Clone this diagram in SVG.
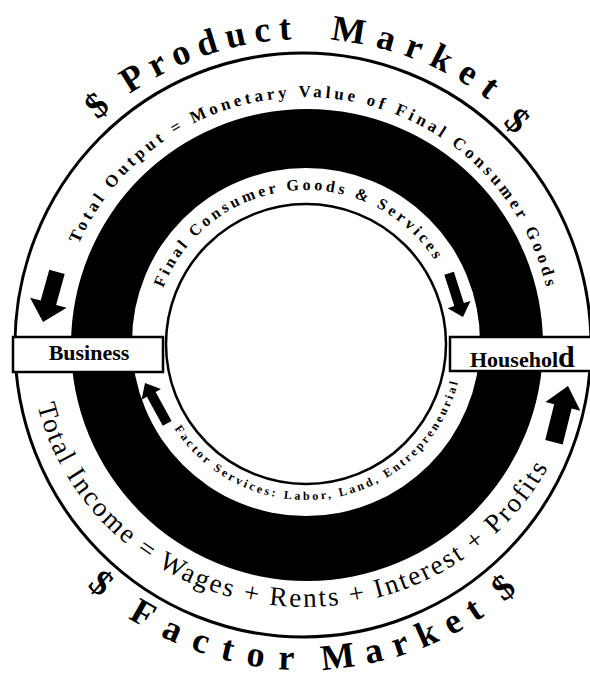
<svg xmlns="http://www.w3.org/2000/svg" width="590" height="675" viewBox="0 0 590 675">
<style>
.serif{font-family:"Liberation Serif","Times New Roman",serif;fill:#000}
.big{font-size:36px;font-weight:bold}
.arr{fill:#000}
.box{fill:#fff;stroke:#000;stroke-width:2.5}
.lbl{font-family:"Liberation Serif","Times New Roman",serif;font-weight:bold;font-size:22px;fill:#000}
</style>
<defs>
<path id="topOuter" d="M -1 345 A 306 306 0 0 1 611 345"/>
<path id="topMid" d="M 57 345 A 248 248 0 0 1 553 345"/>
<path id="topInner" d="M 153 343 A 153 153 0 0 1 459 343"/>
<path id="botInner" d="M 149 343 A 157 157 0 0 0 463 343"/>
<path id="botMid" d="M 30 345 A 275 262 0 0 0 580 345"/>
<path id="botOuter" d="M -20 345 A 325 325 0 0 0 630 345"/>
</defs>
<rect width="590" height="675" fill="#fff"/>
<g id="rings">
<ellipse cx="303" cy="345" rx="288" ry="292" fill="#fff" stroke="#000" stroke-width="3"/>
<path d="M 71 345 A 236 236 0 1 0 543 345 A 236 236 0 1 0 71 345 Z M 132 342 A 174 174 0 1 1 480 342 A 174 174 0 1 1 132 342 Z" fill="#000" fill-rule="evenodd"/>
<circle cx="306" cy="344" r="140" fill="#fff" stroke="#000" stroke-width="2.5"/>
</g>
<g id="ring-labels">
<text class="serif big"><textPath href="#topOuter" startOffset="261.7" text-anchor="middle">$</textPath></text>
<text class="serif big" letter-spacing="8.3"><textPath href="#topOuter" startOffset="293.7">Product</textPath></text>
<text class="serif big" letter-spacing="11"><textPath href="#topOuter" startOffset="505.8">Market</textPath></text>
<text class="serif big" dy="9"><textPath href="#topOuter" startOffset="712" text-anchor="middle">$</textPath></text>
<text class="serif" font-size="17" font-weight="bold" letter-spacing="3.77"><textPath href="#topMid" startOffset="103.9">Total Output = Monetary Value of Final Consumer Goods</textPath></text>
<text class="serif" font-size="16" font-weight="bold" letter-spacing="3.36"><textPath href="#topInner" startOffset="56.1">Final Consumer Goods &amp; Services</textPath></text>
<text class="serif" font-size="12" font-weight="bold" letter-spacing="2.8"><textPath href="#botInner" startOffset="90.4">Factor Services: Labor, Land, Entrepreneurial</textPath></text>
<text class="serif" font-size="27" letter-spacing="2.3"><textPath href="#botMid" startOffset="61">Total Income = Wages + Rents + Interest + Profits</textPath></text>
<text class="serif big"><textPath href="#botOuter" startOffset="280.2" text-anchor="middle">$</textPath></text>
<text class="serif big" letter-spacing="14.8"><textPath href="#botOuter" startOffset="323.3">Factor</textPath></text>
<text class="serif big" letter-spacing="11.5"><textPath href="#botOuter" startOffset="527.5">Market</textPath></text>
<text class="serif big"><textPath href="#botOuter" startOffset="732.9" text-anchor="middle">$</textPath></text>
</g>
<g id="business">
<rect class="box" x="13" y="337" width="150" height="35"/>
<text class="lbl" x="89" y="360" text-anchor="middle">Business</text>
</g>
<g id="household">
<rect class="box" x="450" y="337" width="145" height="34"/>
<text class="lbl" x="470" y="367">Househol<tspan font-size="30">d</tspan></text>
</g>
<g id="connectors">
<polygon class="arr" points="0,0 19,20 8,20 8,52 -8,52 -8,20 -19,20" transform="translate(43,322) rotate(195.6)"/>
<polygon class="arr" points="0,0 12,13 5,13 5,46 -5,46 -5,13 -12,13" transform="translate(463,317) rotate(162.4)"/>
<polygon class="arr" points="0,0 11,13 5,13 5,46 -5,46 -5,13 -11,13" transform="translate(145,383) rotate(-28.8)"/>
<polygon class="arr" points="0,0 18,21 9,21 9,58 -9,58 -9,21 -18,21" transform="translate(568,386) rotate(14)"/>
</g>
</svg>
